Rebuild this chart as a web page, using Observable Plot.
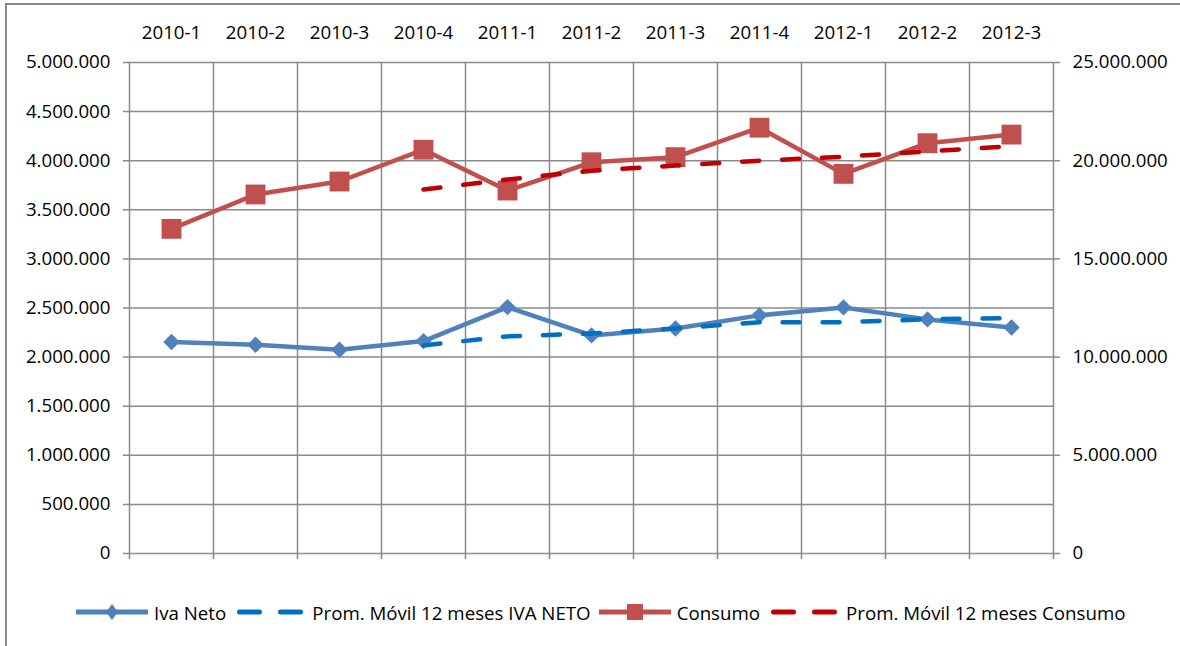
<!DOCTYPE html>
<html><head><meta charset="utf-8">
<script src="https://cdn.jsdelivr.net/npm/d3@7"></script>
<script src="https://cdn.jsdelivr.net/npm/@observablehq/plot@0.6"></script>
<style>
html,body{margin:0;padding:0;background:#fff;overflow:hidden;}
body{width:1180px;height:646px;position:relative;font-family:"Open Sans",sans-serif;}
#frame{position:absolute;left:5px;top:3px;width:1200px;height:700px;border:2px solid #8a8a8a;pointer-events:none;z-index:2;box-sizing:border-box;}
#chart svg{display:block;}
#legend{position:absolute;left:76px;top:600px;height:24px;display:flex;justify-content:flex-start;align-items:center;font-size:18.7px;color:#000;white-space:nowrap;}
#legend .item{display:flex;align-items:center;margin-right:8px;}
#legend svg{display:block;margin-right:6px;}
</style></head><body>
<div id="frame"></div>
<div id="chart"></div>
<div id="legend"></div>
<script>
// ---- data ----
const periods = ["2010-1","2010-2","2010-3","2010-4","2011-1","2011-2","2011-3","2011-4","2012-1","2012-2","2012-3"];
const ivaNeto = [2153000, 2126000, 2075000, 2163000, 2509000, 2221000, 2292000, 2425000, 2506000, 2384000, 2302000];
const ivaPromMovil = [null, null, null, 2119000, 2211000, 2240000, 2292000, 2356000, 2356000, 2385000, 2397000];
const consumo = [16530000, 18280000, 18940000, 20560000, 18480000, 19920000, 20180000, 21680000, 19330000, 20890000, 21330000];
const consumoPromMovil = [null, null, null, 18530000, 19040000, 19490000, 19750000, 20000000, 20200000, 20470000, 20740000];
const leftTicks = [0, 500000, 1000000, 1500000, 2000000, 2500000, 3000000, 3500000, 4000000, 4500000, 5000000];
const rightTicks = [0, 5000000, 10000000, 15000000, 20000000, 25000000];
const seriesNames = ["Iva Neto", "Prom. Móvil 12 meses IVA NETO", "Consumo", "Prom. Móvil 12 meses Consumo"];

const leftMax = leftTicks[leftTicks.length - 1];
const rightMax = rightTicks[rightTicks.length - 1];
const RATIO = rightMax / leftMax; // secondary axis scaling

const C = {iva: "#4f81bd", ivaAvg: "#0070c0", cons: "#c0504d", consAvg: "#c00000", grid: "#8a8a8a"};
const fmt = d3.formatLocale({decimal: ",", thousands: ".", grouping: [3], currency: ["$", ""]}).format(",.0f");

const rows = periods.map((p, i) => ({
  p, pos: periods.indexOf(p) + 0.5,
  iva: ivaNeto[i], ivaAvg: ivaPromMovil[i],
  cons: consumo[i] / RATIO, consAvg: consumoPromMovil[i] == null ? null : consumoPromMovil[i] / RATIO
}));
const bounds = d3.range(periods.length + 1);
const dash = "17,23";

const plot = Plot.plot({
  width: 1180, height: 590,
  marginLeft: 129, marginRight: 127, marginTop: 62, marginBottom: 37,
  style: {background: "transparent", fontFamily: "'Open Sans', sans-serif", fontSize: "18.7px", color: "#000"},
  x: {type: "linear", domain: [0, periods.length], axis: null},
  y: {type: "linear", domain: [0, leftMax], axis: null},
  marks: [
    Plot.ruleY(leftTicks, {y: d => d, stroke: C.grid, strokeWidth: 1.5, insetLeft: -6}),
    Plot.ruleX(bounds, {x: d => d, stroke: C.grid, strokeWidth: 1.5, insetBottom: -6}),
    Plot.axisX({anchor: "top", ticks: periods.map((p, i) => i + 0.5), tickFormat: d => periods[Math.floor(d)], tickSize: 0, tickPadding: 24, label: null, fill: "#000"}),
    Plot.axisY({anchor: "left", ticks: leftTicks, tickFormat: fmt, tickSize: 0, tickPadding: 19, label: null, fill: "#000"}),
    Plot.axisY({anchor: "right", ticks: rightTicks.map(v => v / RATIO), tickFormat: d => fmt(Math.round(d * RATIO)), tickSize: 6, tickPadding: 13, label: null, stroke: C.grid, strokeWidth: 1.5, fill: "#000"}),
    // Iva Neto
    Plot.line(rows, {x: "pos", y: "iva", stroke: C.iva, strokeWidth: 4.5, strokeLinejoin: "round"}),
    Plot.dot(rows, {x: "pos", y: "iva", symbol: "diamond2", r: 7.4, fill: C.iva, stroke: "none"}),
    Plot.line(rows.filter(d => d.ivaAvg != null), {x: "pos", y: "ivaAvg", stroke: C.ivaAvg, strokeWidth: 4.5, strokeDasharray: dash, strokeLinecap: "round"}),
    // Consumo (secondary axis)
    Plot.line(rows, {x: "pos", y: "cons", stroke: C.cons, strokeWidth: 4.5, strokeLinejoin: "round"}),
    Plot.dot(rows, {x: "pos", y: "cons", symbol: "square", r: 11.2, fill: C.cons, stroke: "none"}),
    Plot.line(rows.filter(d => d.consAvg != null), {x: "pos", y: "consAvg", stroke: C.consAvg, strokeWidth: 4.5, strokeDasharray: dash, strokeLinecap: "round"})
  ]
});
document.getElementById("chart").appendChild(plot);

// ---- legend ----
const legendDefs = [
  {name: seriesNames[0], color: C.iva, dashed: false, marker: "diamond"},
  {name: seriesNames[1], color: C.ivaAvg, dashed: true},
  {name: seriesNames[2], color: C.cons, dashed: false, marker: "square"},
  {name: seriesNames[3], color: C.consAvg, dashed: true}
];
const legend = document.getElementById("legend");
for (const it of legendDefs) {
  const item = document.createElement("div");
  item.className = "item";
  let svg = `<svg width="72" height="24" viewBox="0 0 72 24">`;
  if (it.dashed) {
    svg += `<line x1="5.5" x2="66.5" y1="12" y2="12" stroke="${it.color}" stroke-width="5" stroke-linecap="round" stroke-dasharray="20,21"/>`;
  } else {
    svg += `<line x1="0" x2="72" y1="12" y2="12" stroke="${it.color}" stroke-width="5"/>`;
    if (it.marker === "diamond") svg += `<path d="M36,4L42,12L36,20L30,12Z" fill="${it.color}"/>`;
    if (it.marker === "square") svg += `<rect x="28" y="4" width="16" height="16" fill="${it.color}"/>`;
  }
  svg += `</svg>`;
  item.innerHTML = svg + `<span>${it.name}</span>`;
  legend.appendChild(item);
}
</script>
</body></html>
